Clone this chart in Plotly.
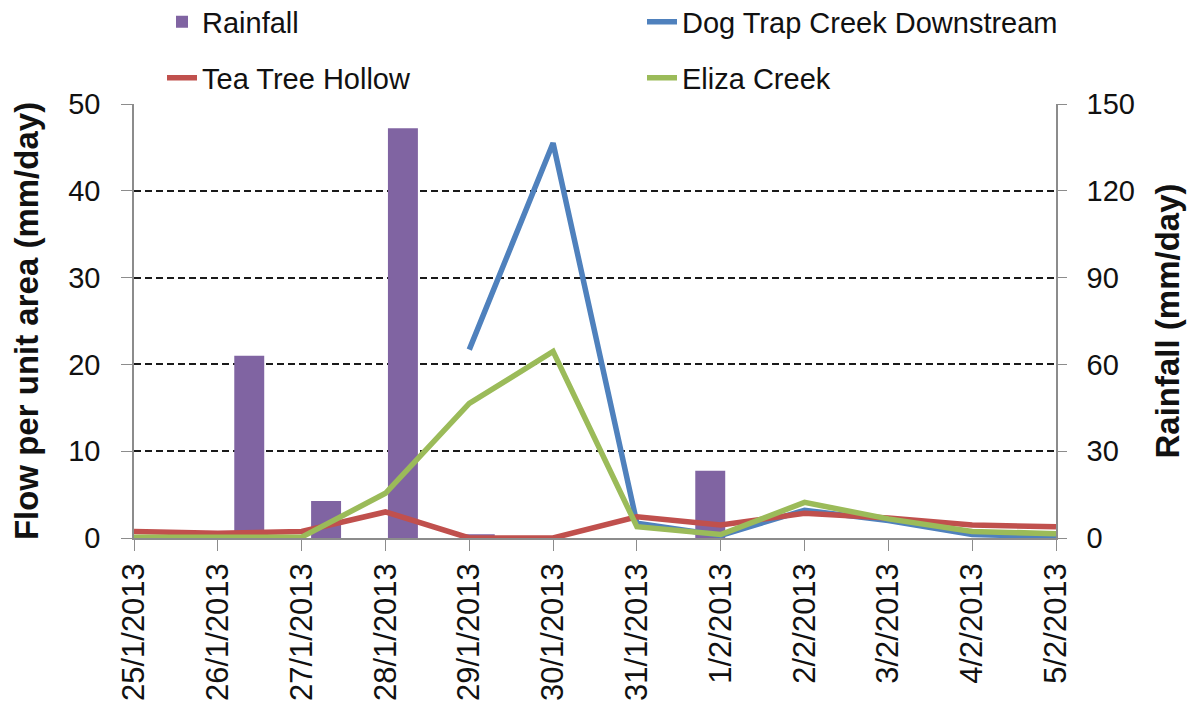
import plotly.graph_objects as go

dates = ["25/1/2013", "26/1/2013", "27/1/2013", "28/1/2013", "29/1/2013", "30/1/2013",
         "31/1/2013", "1/2/2013", "2/2/2013", "3/2/2013", "4/2/2013", "5/2/2013"]

rainfall = [0, 63.0, 12.8, 141.6, 1.3, 0, 0, 23.2, 0, 0, 0, 0]
dog_trap = [None, None, None, None, 21.7, 45.5, 1.7, 0.3, 3.2, 2.0, 0.4, 0.15]
tea_tree = [0.75, 0.55, 0.75, 3.0, 0.0, 0.0, 2.45, 1.5, 2.85, 2.3, 1.5, 1.3]
eliza = [0.1, 0.1, 0.1, 5.15, 15.5, 21.5, 1.3, 0.4, 4.1, 2.2, 0.75, 0.5]

PURPLE = "#8064A2"
BLUE = "#4F81BD"
RED = "#C0504D"
GREEN = "#9BBB59"
AXIS_GREY = "#8C8C8C"

W, H = 1194, 711
FONT = "Liberation Sans, Arial, sans-serif"
LINE_W = 5.5

fig = go.Figure()

# rainfall bars on the base axes (right-hand scale), centred between day ticks
fig.add_trace(go.Bar(
    x=dates, y=rainfall, name="Rainfall", xaxis="x", yaxis="y",
    width=0.39, marker=dict(color=PURPLE, line=dict(width=0)),
    legend="legend", showlegend=True,
))

# flow lines on the overlay axes (left-hand scale), drawn above the bars
fig.add_trace(go.Scatter(
    x=dates, y=dog_trap, name="Dog Trap Creek Downstream", mode="lines",
    xaxis="x2", yaxis="y2", line=dict(color=BLUE, width=LINE_W),
    connectgaps=False, legend="legend2",
))
fig.add_trace(go.Scatter(
    x=dates, y=tea_tree, name="Tea Tree Hollow", mode="lines",
    xaxis="x2", yaxis="y2", line=dict(color=RED, width=LINE_W),
    legend="legend3",
))
fig.add_trace(go.Scatter(
    x=dates, y=eliza, name="Eliza Creek", mode="lines",
    xaxis="x2", yaxis="y2", line=dict(color=GREEN, width=LINE_W),
    legend="legend4",
))

legend_common = dict(
    orientation="h", xref="container", yref="container",
    xanchor="left", yanchor="middle",
    font=dict(family=FONT, size=29, color="#111111"),
    bgcolor="rgba(0,0,0,0)", visible=True,
)

# two-column legend block above the plot
col_left, col_right = 162, 642
row_top, row_bottom = 22, 78

fig.update_layout(
    width=W, height=H,
    showlegend=True,
    margin=dict(l=134, r=138, t=104, b=173, autoexpand=False),
    paper_bgcolor="white", plot_bgcolor="white",
    font=dict(family=FONT, color="#111111"),
    legend=dict(x=col_left / W, y=1 - row_top / H, **legend_common),
    legend2=dict(x=col_right / W, y=1 - row_top / H, **legend_common),
    legend3=dict(x=col_left / W, y=1 - row_bottom / H, **legend_common),
    legend4=dict(x=col_right / W, y=1 - row_bottom / H, **legend_common),
    xaxis=dict(
        type="category", categoryorder="array", categoryarray=dates,
        range=[-0.5, 11.5], visible=False,
    ),
    yaxis=dict(
        title=dict(text="Rainfall (mm/day)",
                   font=dict(family=FONT, size=33, color="#111111", weight="bold"),
                   standoff=22),
        side="right", range=[0, 150], tickvals=[0, 30, 60, 90, 120, 150],
        showgrid=True, gridcolor="#1a1a1a", griddash="7px,4px", gridwidth=1.5,
        zeroline=False, showline=True, linecolor=AXIS_GREY, linewidth=1.5,
        ticks="outside", ticklen=9, tickcolor=AXIS_GREY,
        ticklabelstandoff=14,
        tickfont=dict(family=FONT, size=29, color="#111111"),
        fixedrange=True,
    ),
    xaxis2=dict(
        type="category", categoryorder="array", categoryarray=dates,
        overlaying="x", anchor="y", side="bottom", range=[0, 11],
        showline=True, linecolor=AXIS_GREY, linewidth=1.5,
        ticks="outside", ticklen=11, tickcolor=AXIS_GREY,
        tickangle=-90, showgrid=False,
        tickfont=dict(family=FONT, size=31, color="#111111"),
    ),
    yaxis2=dict(
        title=dict(text="Flow per unit area (mm/day)",
                   font=dict(family=FONT, size=33, color="#111111", weight="bold"),
                   standoff=20),
        overlaying="y", side="left", anchor="x2", range=[0, 50],
        tickvals=[0, 10, 20, 30, 40, 50], showgrid=False, zeroline=False,
        showline=True, linecolor=AXIS_GREY, linewidth=1.5,
        ticks="outside", ticklen=11, tickcolor=AXIS_GREY,
        ticklabelstandoff=15,
        tickfont=dict(family=FONT, size=29, color="#111111"),
    ),
)

fig.write_html("out.html")
